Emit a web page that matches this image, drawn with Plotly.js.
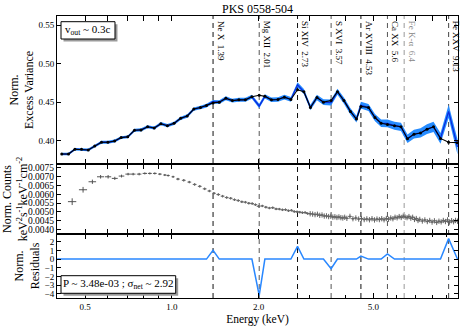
<!DOCTYPE html>
<html>
<head>
<meta charset="utf-8">
<script src="https://cdn.plot.ly/plotly-3.0.1.min.js"></script>
<style>
body { margin: 0; background: white; }
#plot { width: 463px; height: 328px; }
</style>
</head>
<body>
<div id="plot"></div>
<script>
// excess variance spectrum bins (keV)
var binE = [0.415, 0.438, 0.461, 0.486, 0.513, 0.540, 0.570, 0.600, 0.633, 0.667,
  0.703, 0.742, 0.782, 0.824, 0.869, 0.916, 0.965, 1.018, 1.073, 1.131,
  1.192, 1.257, 1.319, 1.39, 1.461, 1.540, 1.622, 1.709, 1.800, 1.896,
  2.01, 2.103, 2.216, 2.334, 2.458, 2.589, 2.73, 2.873, 3.026, 3.188,
  3.358, 3.57, 3.756, 3.956, 4.167, 4.372, 4.53, 4.812, 5.069, 5.326,
  5.6, 5.923, 6.239, 6.572, 6.923, 7.292, 7.681, 8.091, 8.556, 9.13, 9.80];

// model (black)
var modelVar = [0.3827, 0.3827, 0.389, 0.3888, 0.388, 0.393, 0.398, 0.398, 0.3995, 0.404,
  0.405, 0.4135, 0.414, 0.418, 0.4165, 0.422, 0.4195, 0.4225, 0.429, 0.432,
  0.441, 0.443, 0.4455, 0.449, 0.450, 0.455, 0.452, 0.453, 0.453, 0.457,
  0.459, 0.4575, 0.453, 0.4535, 0.4565, 0.4535, 0.466, 0.4635, 0.443, 0.456,
  0.450, 0.452, 0.4635, 0.452, 0.438, 0.428, 0.4445, 0.443, 0.430, 0.4226,
  0.421, 0.4195, 0.418, 0.4025, 0.4085, 0.410, 0.415, 0.418, 0.403, 0.398, 0.3975];

// measured (blue) with 1-sigma band
var dataVar = [0.3827, 0.3827, 0.389, 0.3888, 0.388, 0.393, 0.398, 0.398, 0.3995, 0.404,
  0.405, 0.4135, 0.414, 0.418, 0.4165, 0.422, 0.4195, 0.4225, 0.429, 0.432,
  0.441, 0.443, 0.4455, 0.4505, 0.450, 0.455, 0.452, 0.453, 0.453, 0.457,
  0.445, 0.4575, 0.453, 0.4535, 0.4565, 0.4535, 0.4725, 0.4635, 0.443, 0.456,
  0.450, 0.4495, 0.4635, 0.452, 0.438, 0.428, 0.446, 0.443, 0.430, 0.4226,
  0.4225, 0.4195, 0.418, 0.4025, 0.4085, 0.410, 0.415, 0.418, 0.403, 0.438, 0.392];

var dataVarErr = [0.0017, 0.0017, 0.0017, 0.0017, 0.0018, 0.0018, 0.0018, 0.0018, 0.0019, 0.0019,
  0.0019, 0.002, 0.002, 0.002, 0.002, 0.0021, 0.0021, 0.0021, 0.0022, 0.0022,
  0.0022, 0.0023, 0.0023, 0.0024, 0.0024, 0.0025, 0.0025, 0.0026, 0.0026, 0.0027,
  0.0028, 0.0028, 0.0029, 0.003, 0.003, 0.0031, 0.0033, 0.0034, 0.0035, 0.0036,
  0.0037, 0.0038, 0.0039, 0.004, 0.0042, 0.0043, 0.0044, 0.0046, 0.0047, 0.0048,
  0.005, 0.0052, 0.0054, 0.0056, 0.0058, 0.006, 0.0063, 0.0066, 0.007, 0.0085, 0.01];

// normalised residuals, on the bins plus the two band edges
var residE = [0.40, 0.415, 0.438, 0.461, 0.486, 0.513, 0.540, 0.570, 0.600, 0.633, 0.667,
  0.703, 0.742, 0.782, 0.824, 0.869, 0.916, 0.965, 1.018, 1.073, 1.131,
  1.192, 1.257, 1.319, 1.39, 1.461, 1.540, 1.622, 1.709, 1.800, 1.896,
  2.01, 2.103, 2.216, 2.334, 2.458, 2.589, 2.73, 2.873, 3.026, 3.188,
  3.358, 3.57, 3.756, 3.956, 4.167, 4.372, 4.53, 4.812, 5.069, 5.326,
  5.6, 5.923, 6.239, 6.572, 6.923, 7.292, 7.681, 8.091, 8.556, 9.13, 9.80, 10.0];
var residuals = [0, 0, 0, 0, 0, 0, 0, 0, 0, 0, 0,
  0, 0, 0, 0, 0, 0, 0, 0, 0, 0,
  0, 0, 0, 1.0, 0, 0, 0, 0, 0, 0,
  -4.15, 0, 0, 0, 0, 0, 1.45, 0, 0, 0,
  0, -1.1, 0, 0, 0, 0, 0.35, 0, 0, 0,
  0.6, 0, 0, 0, 0, 0, 0, 0, 0, 2.35, 0, 0];

// count spectrum, wide low-energy bins
var specLowE = [0.451, 0.492, 0.530, 0.566, 0.601, 0.634, 0.669, 0.705, 0.734, 0.770,
  0.806, 0.839, 0.873, 0.909, 0.946, 0.971, 1.010];
var specLowDE = [0.015, 0.016, 0.016, 0.016, 0.015, 0.015, 0.015, 0.015, 0.014, 0.014,
  0.014, 0.013, 0.013, 0.013, 0.012, 0.012, 0.012];
var specLowCts = [0.00558, 0.00625, 0.00670, 0.00698, 0.00698, 0.00689, 0.00702, 0.00713, 0.00713, 0.00713,
  0.00717, 0.00717, 0.00717, 0.00713, 0.00708, 0.00705, 0.00698];
var specLowErr = [0.00019, 0.00016, 0.00012, 0.0001, 0.0001, 0.00009, 0.00008, 0.00007, 0.00007, 0.00007,
  0.00006, 0.00006, 0.00006, 0.00006, 0.00006, 0.00006, 0.00006];

// count spectrum, narrow bins
var specE = [1.05, 1.10, 1.15, 1.20, 1.25, 1.30, 1.35, 1.40, 1.45, 1.50,
  1.55, 1.60, 1.65, 1.70, 1.75, 1.80, 1.85, 1.90, 1.95, 2.00,
  2.06, 2.12, 2.18, 2.24, 2.30, 2.36, 2.42, 2.48, 2.54, 2.60,
  2.66, 2.72, 2.78, 2.84, 2.90, 2.96, 3.02, 3.08, 3.14, 3.20,
  3.26, 3.32, 3.38, 3.44, 3.50, 3.56, 3.62, 3.68, 3.74, 3.80,
  3.86, 3.92, 3.98,
  4.05, 4.15, 4.25, 4.35, 4.45, 4.55, 4.65, 4.75, 4.85, 4.95,
  5.05, 5.15, 5.25, 5.35, 5.45, 5.55, 5.65, 5.75, 5.85, 5.95,
  6.05, 6.15, 6.25, 6.35, 6.45, 6.55, 6.65, 6.75, 6.85, 6.95,
  7.05, 7.15, 7.25,
  7.40, 7.55, 7.70, 7.85, 8.00, 8.15, 8.30, 8.45, 8.60, 8.75,
  8.90, 9.05, 9.20, 9.35, 9.50, 9.65, 9.80, 9.95];
var specCts = [0.00685, 0.00678, 0.00668, 0.00655, 0.00644, 0.00630, 0.00618, 0.00605, 0.00598, 0.00589,
  0.00581, 0.00577, 0.00569, 0.00564, 0.00557, 0.00555, 0.00549, 0.00547, 0.00541, 0.00532,
  0.00534, 0.00527, 0.00522, 0.00524, 0.00517, 0.00516, 0.00512, 0.00513, 0.00507, 0.00509,
  0.00502, 0.00501, 0.00499, 0.00496, 0.00497, 0.00491, 0.00490, 0.00488, 0.00485, 0.00487,
  0.00481, 0.00483, 0.00477, 0.00478, 0.00474, 0.00476, 0.00471, 0.00473, 0.00469, 0.00472,
  0.00468, 0.00466, 0.00470,
  0.00464, 0.00475, 0.00462, 0.00466, 0.00460, 0.00463, 0.00457, 0.00461, 0.00456, 0.00462,
  0.00455, 0.00460, 0.00457, 0.00462, 0.00456, 0.00463, 0.00459, 0.00466, 0.00462, 0.00470,
  0.00467, 0.00474, 0.00469, 0.00476, 0.00471, 0.00468, 0.00474, 0.00465, 0.00470, 0.00458,
  0.00463, 0.00452, 0.00458,
  0.00449, 0.00455, 0.00446, 0.00452, 0.00443, 0.00450, 0.00441, 0.00448, 0.00444, 0.00452,
  0.00446, 0.00455, 0.00443, 0.00451, 0.00445, 0.00452, 0.00448, 0.00455];

var lineE = [1.39, 2.01, 2.73, 3.57, 4.53, 5.6, 6.4, 9.13];
var lineNames = ['Ne X', 'Mg XII', 'Si XIV', 'S XVI', 'Ar XVIII', 'Ca XX', 'Fe K-\u03b1', 'Fe XXV'];
var lineLabels = ['1.39', '2.01', '2.73', '3.57', '4.53', '5.6', '6.4', '9.13'];
var lineColors = ['#111', '#555', '#111', '#555', '#111', '#555', '#999', '#444'];

var serif = 'Liberation Serif, Times New Roman, serif';

function makePlot() {
  var upper = dataVar.map(function (v, i) { return v + dataVarErr[i]; });
  var lower = dataVar.map(function (v, i) { return v - dataVarErr[i]; });
  var specErr = specE.map(function (e) { return e < 3 ? 0.00007 : 0.00015; });

  var data = [
    { x: binE, y: lower, mode: 'lines', line: { width: 0 }, yaxis: 'y', hoverinfo: 'skip' },
    { x: binE, y: upper, mode: 'lines', line: { width: 0 }, fill: 'tonexty',
      fillcolor: 'rgb(38,140,255)', yaxis: 'y', hoverinfo: 'skip' },
    { x: binE, y: dataVar, mode: 'lines', line: { color: '#0a2be0', width: 1.3 }, yaxis: 'y' },
    { x: binE, y: modelVar, mode: 'lines+markers', line: { color: 'black', width: 1.1 },
      marker: { color: 'black', size: 3 }, yaxis: 'y' },
    { x: specLowE, y: specLowCts, mode: 'markers', marker: { size: 1, color: '#555' },
      error_x: { type: 'data', array: specLowDE, color: '#555', thickness: 1, width: 0 },
      error_y: { type: 'data', array: specLowErr, color: '#555', thickness: 1, width: 0 },
      yaxis: 'y2' },
    { x: specE, y: specCts, mode: 'markers', marker: { size: 2, color: '#666' },
      error_x: { type: 'percent', value: 1.5, color: '#666', thickness: 1, width: 0 },
      error_y: { type: 'data', array: specErr, color: '#666', thickness: 1, width: 0 },
      yaxis: 'y2' },
    { x: residE, y: residuals, mode: 'lines', line: { color: 'rgb(40,135,255)', width: 1.5 }, yaxis: 'y3' }
  ];

  var shapes = lineE.map(function (e, i) {
    return { type: 'line', xref: 'x', yref: 'paper', x0: e, x1: e, y0: 0, y1: 1, layer: 'below',
      line: { color: lineColors[i], width: 1, dash: '5px,4px' } };
  });

  var annotations = lineE.map(function (e, i) {
    return { x: Math.log10(e), xref: 'x', y: 1, yref: 'paper', xanchor: 'left', yanchor: 'top',
      xshift: 1, yshift: -3, textangle: 90, showarrow: false,
      text: lineNames[i] + '\u00a0\u00a0' + lineLabels[i],
      font: { family: serif, size: 9, color: i === 6 ? '#888' : 'black' } };
  });

  // text boxes with a drop shadow (paper coords)
  var boxes = [
    { text: 'v<sub>out</sub> ~ 0.3c', x0: 0.01, x1: 0.1446, y0: 0.9184, y1: 0.9798 },
    { text: 'P ~ 3.48e-03 ; \u03c3<sub>net</sub> ~ 2.92', x0: 0.01, x1: 0.296, y0: 0.0167, y1: 0.0791 }
  ];
  boxes.forEach(function (b) {
    shapes.push({ type: 'rect', xref: 'paper', yref: 'paper', x0: b.x0 + 0.0062, x1: b.x1 + 0.0062,
      y0: b.y0 - 0.009, y1: b.y1 - 0.009, fillcolor: '#9a9a9a', line: { width: 0 } });
    shapes.push({ type: 'rect', xref: 'paper', yref: 'paper', x0: b.x0, x1: b.x1,
      y0: b.y0, y1: b.y1, fillcolor: 'white', line: { color: 'black', width: 1 } });
    annotations.push({ x: (b.x0 + b.x1) / 2, y: (b.y0 + b.y1) / 2, xref: 'paper', yref: 'paper',
      xanchor: 'center', yanchor: 'middle', showarrow: false, text: b.text,
      font: { family: serif, size: 11, color: 'black' } });
  });

  var yBase = {
    showline: true, linecolor: 'black', linewidth: 1, mirror: 'ticks', ticks: 'inside',
    ticklen: 4, tickcolor: 'black', showgrid: false, zeroline: false,
    tickfont: { family: serif, size: 9 }
  };

  var layout = {
    width: 463, height: 328,
    margin: { l: 57, r: 5, t: 16, b: 30 },
    paper_bgcolor: 'white', plot_bgcolor: 'white',
    showlegend: false,
    font: { family: serif, size: 9, color: 'black' },
    title: { text: 'PKS 0558-504', xref: 'paper', x: 0.5, yref: 'container', y: 0.974,
      yanchor: 'middle', font: { family: serif, size: 12 } },
    xaxis: {
      type: 'log', range: [Math.log10(0.3995), Math.log10(9.84)], anchor: 'y3',
      tickvals: [0.5, 1, 2, 5], ticktext: ['0.5', '1.0', '2.0', '5.0'],
      ticks: 'inside', ticklen: 5, tickcolor: 'black', mirror: 'allticks',
      showline: true, linecolor: 'black', linewidth: 1, showgrid: false, zeroline: false,
      tickfont: { family: serif, size: 9 },
      minor: { ticks: 'inside', ticklen: 3, tickcolor: 'black', showgrid: false,
        tickvals: [0.4, 0.6, 0.7, 0.8, 0.9, 3, 4, 6, 7, 8, 9] },
      title: { text: 'Energy (keV)', font: { family: serif, size: 11.5 }, standoff: 4 }
    },
    yaxis: Object.assign({}, yBase, {
      domain: [0.4752, 1], range: [0.3698, 0.5617],
      tickvals: [0.40, 0.45, 0.50, 0.55], tickformat: '.2f',
      title: { text: 'Norm.<br>Excess Variance', font: { family: serif, size: 12 } }
    }),
    yaxis2: Object.assign({}, yBase, {
      domain: [0.227, 0.4752], range: [0.00376, 0.0077],
      dtick: 0.0005, tick0: 0, tickformat: '.4f', tickfont: { family: serif, size: 9.5 },
      title: { text: 'Norm. Counts<br>keV<sup>2</sup>s<sup>-1</sup>keV<sup>-1</sup>cm<sup>-2</sup>',
        font: { family: serif, size: 12 } }
    }),
    yaxis3: Object.assign({}, yBase, {
      domain: [0, 0.227], range: [-4.46, 2.88], dtick: 1, tick0: 0,
      title: { text: 'Norm.<br>Residuals', font: { family: serif, size: 12 } }
    }),
    shapes: shapes,
    annotations: annotations
  };

  Plotly.newPlot('plot', data, layout, { displayModeBar: false, staticPlot: true });
}

makePlot();
</script>
</body>
</html>
